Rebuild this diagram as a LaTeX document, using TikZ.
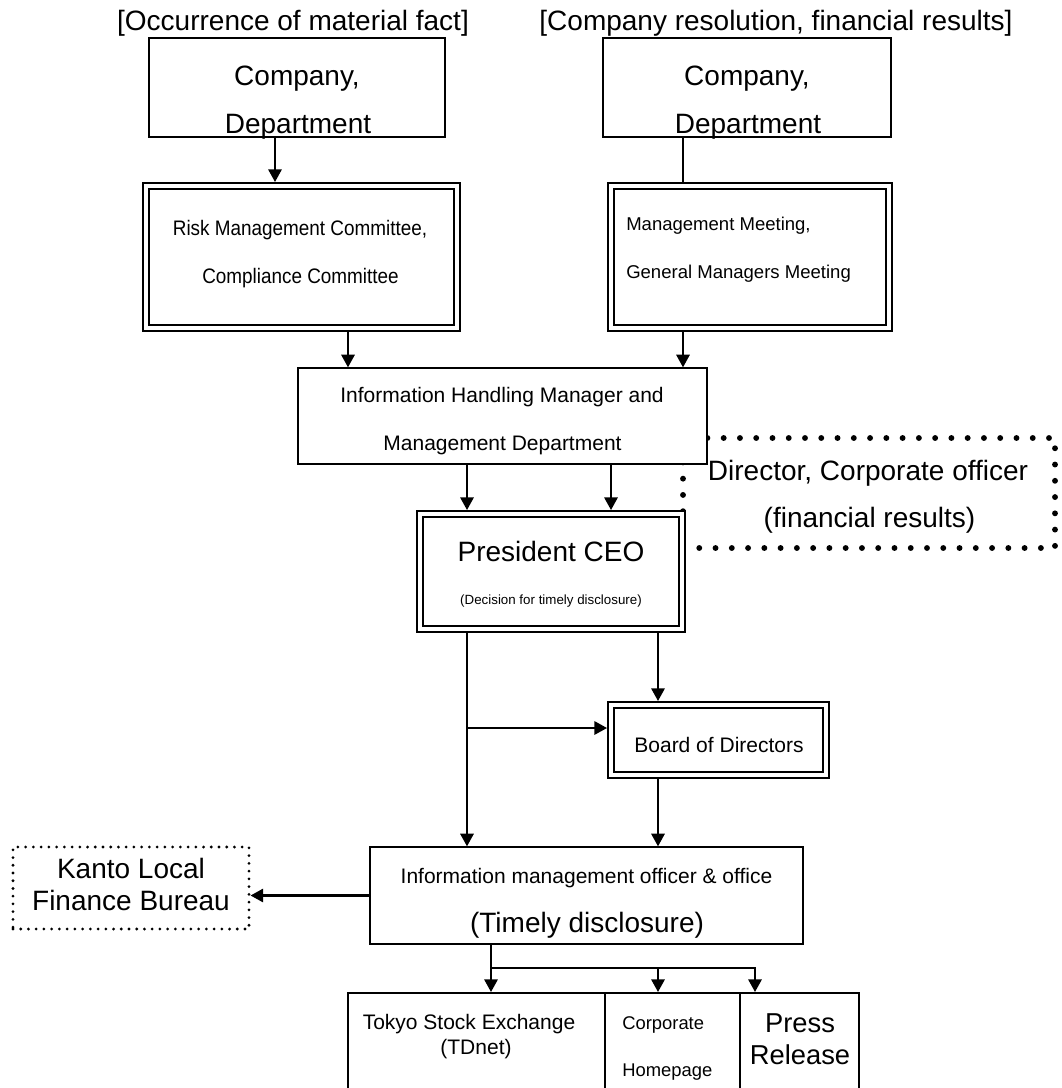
\documentclass[tikz,border=0pt]{standalone}
\usepackage{fontspec}
\setmainfont{Liberation Sans}
\newfontfamily\narrowfont[FakeStretch=0.9]{Liberation Sans}
\usetikzlibrary{arrows.meta}

\tikzset{
  box/.style={draw, fill=white, line width=1.5pt, inner sep=0pt},
  thinbox/.style={draw, fill=white, line width=1pt, inner sep=0pt},
  dbox/.style={draw, fill=white, double, line width=1.8pt, double distance=2.6pt, outer sep=3.1pt, inner sep=0pt},
  dotbox/.style={draw, line width=4.4pt, dash pattern=on 0pt off 12.2pt, line cap=round, inner sep=0pt},
  smalldots/.style={draw, line width=2.3pt, dash pattern=on 0pt off 5.8pt, line cap=round, inner sep=0pt},
  txt/.style={anchor=base, inner sep=0pt},
  fL/.style={font=\fontsize{21pt}{25pt}\selectfont},
  fM/.style={font=\fontsize{15.75pt}{19pt}\selectfont},
  fN/.style={font=\narrowfont\fontsize{15.75pt}{19pt}\selectfont},
  fS/.style={font=\fontsize{13.9pt}{17pt}\selectfont},
  fXS/.style={font=\fontsize{10pt}{12pt}\selectfont},
  con/.style={line width=1.6pt}
}

\begin{document}
\begin{tikzpicture}[x=0.75pt, y=-0.75pt, >={Triangle[length=9.5pt, width=10pt]}]
  \useasboundingbox (0,0) rectangle (1062,1088);
  \clip (0,0) rectangle (1062,1088);

  % Dotted box (behind the flow)
  \node[dotbox, minimum width=279pt, minimum height=82.5pt] (E) at (869,493) {};

  % Boxes
  \node[box, minimum width=222pt, minimum height=74.25pt] (A1) at (297,87.5) {};
  \node[box, minimum width=216pt, minimum height=74.25pt] (A2) at (747,87.5) {};
  \node[dbox, minimum width=233pt, minimum height=106.3pt] (B1) at (301.5,257) {};
  \node[dbox, minimum width=208.3pt, minimum height=106.3pt] (B2) at (750,257) {};
  \node[thinbox, minimum width=306.75pt, minimum height=72pt] (C) at (502.5,416) {};
  \node[dbox, minimum width=196.3pt, minimum height=86pt] (D) at (551,571.5) {};
  \node[dbox, minimum width=161pt, minimum height=52.3pt] (G) at (718.5,740) {};
  \node[thinbox, minimum width=324.75pt, minimum height=72.75pt] (F) at (586.5,895.5) {};
  \node[smalldots, minimum width=177pt, minimum height=61.5pt] (K) at (131,888) {};
  \node[box, minimum width=192.75pt, minimum height=87.75pt] (Tk) at (476.5,1051.5) {};
  \node[box, minimum width=101.25pt, minimum height=87.75pt] (Cp) at (672.5,1051.5) {};
  \node[box, minimum width=89.25pt, minimum height=87.75pt] (Pr) at (799.5,1051.5) {};

  % Texts
  \node[txt, fL] (T1) at (293,31) {[Occurrence of material fact]};
  \node[txt, fL] (T2) at (776,31) {[Company resolution, financial results]};
  \node[txt, fL] (A1a) at (297,85) {Company,};
  \node[txt, fL] (A2a) at (747,85) {Company,};
  \begin{scope}
    \clip (A1.north west) rectangle (A1.south east);
    \node[txt, fL] (A1b) at (298,133) {Department};
  \end{scope}
  \begin{scope}
    \clip (A2.north west) rectangle (A2.south east);
    \node[txt, fL] (A2b) at (748,133) {Department};
  \end{scope}
  \node[txt, fN] (B1a) at (300,235) {Risk Management Committee,};
  \node[txt, fN] (B1b) at (300.5,283) {Compliance Committee};
  \node[txt, fS, anchor=base west] (B2a) at (626,230) {Management Meeting,};
  \node[txt, fS, anchor=base west] (B2b) at (626,278) {General Managers Meeting};
  \node[txt, fM] (Ca) at (502,402) {Information Handling Manager and};
  \node[txt, fM] (Cb) at (502.5,450) {Management Department};
  \node[txt, fL] (Da) at (551,561.5) {President CEO};
  \node[txt, fXS] (Db) at (551,604) {(Decision for timely disclosure)};
  \node[txt, fL] (Ea) at (868,480.5) {Director, Corporate officer};
  \node[txt, fL] (Eb) at (869.5,527.5) {(financial results)};
  \node[txt, fM] (Ga) at (719,752.3) {Board of Directors};
  \node[txt, fL] (Ka) at (131,878.3) {Kanto Local};
  \node[txt, fL] (Kb) at (131,910) {Finance Bureau};
  \node[txt, fM] (Fa) at (586.5,883.3) {Information management officer \& office};
  \node[txt, fL] (Fb) at (587,932.4) {(Timely disclosure)};
  \node[txt, fM] (Tka) at (469,1029) {Tokyo Stock Exchange};
  \node[txt, fM] (Tkb) at (476,1054) {(TDnet)};
  \node[txt, font=\fontsize{13.8pt}{17pt}\selectfont, anchor=base west] (Cpa) at (622,1029) {Corporate};
  \node[txt, font=\fontsize{13.8pt}{17pt}\selectfont, anchor=base west] (Cpb) at (622,1076.5) {Homepage};
  \node[txt, font=\fontsize{20.5pt}{24pt}\selectfont] (Pra) at (800,1032.7) {Press};
  \node[txt, font=\fontsize{20.5pt}{24pt}\selectfont] (Prb) at (800,1064) {Release};

  % Columns of the connectors
  \coordinate (cA) at (275,0);
  \coordinate (cB) at (683,0);
  \coordinate (cC) at (348,0);
  \coordinate (cD) at (467,0);
  \coordinate (cE) at (611,0);
  \coordinate (cF) at (658,0);
  \coordinate (cP) at (755,0);
  \coordinate (brG) at (467,728);
  \coordinate (brT) at (491,968);

  % Arrows
  \draw[con, ->] (A1.south -| cA) -- (B1.north -| cA);
  \draw[con] (A2.south -| cB) -- (B2.north -| cB);
  \draw[con, ->] (B1.south -| cC) -- (C.north -| cC);
  \draw[con, ->] (B2.south -| cB) -- (C.north -| cB);
  \draw[con, ->] (C.south -| cD) -- (D.north -| cD);
  \draw[con, ->] (C.south -| cE) -- (D.north -| cE);
  \draw[con, ->] (D.south -| cD) -- (F.north -| cD);
  \draw[con, ->] (brG) -- (brG -| G.west);
  \draw[con, ->] (D.south -| cF) -- (G.north -| cF);
  \draw[con, ->] (G.south -| cF) -- (F.north -| cF);
  \draw[con, ->] (F.west) -- (F.west -| K.east);
  \draw[con, ->] (F.south -| brT) -- (Tk.north -| brT);
  \draw[con, ->] (brT -| cF) -- (Cp.north -| cF);
  \draw[con, ->] (brT) -| (Pr.north -| cP);
\end{tikzpicture}
\end{document}
